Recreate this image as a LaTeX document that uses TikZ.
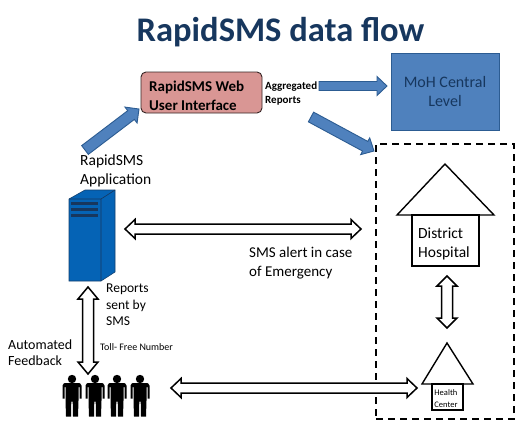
\documentclass[tikz,border=0pt]{standalone}
\usepackage{fontspec}
\setmainfont{Carlito}
\usetikzlibrary{calc}
\definecolor{navy}{HTML}{17375E}
\definecolor{bluefill}{HTML}{4F81BD}
\definecolor{blueline}{HTML}{2C5C92}
\definecolor{serverblue}{HTML}{0563B5}
\definecolor{pinkfill}{HTML}{D99694}
\newcommand\fs[2]{\fontsize{#1}{#2}\selectfont}
\newcommand\singlearrow[6]{%
 \draw[#1] ($(#2)!#4!90:(#3)$) -- ($(#3)!#6!(#2)!#4!-90:(#2)$) -- ($(#3)!#6!(#2)!#5!-90:(#2)$) -- (#3)
  -- ($(#3)!#6!(#2)!#5!90:(#2)$) -- ($(#3)!#6!(#2)!#4!90:(#2)$) -- ($(#2)!#4!-90:(#3)$) -- cycle;}
\newcommand\doublearrow[6]{%
 \draw[#1] (#2) -- ($(#2)!#6!(#3)!#5!90:(#3)$) -- ($(#2)!#6!(#3)!#4!90:(#3)$)
  -- ($(#3)!#6!(#2)!#4!-90:(#2)$) -- ($(#3)!#6!(#2)!#5!-90:(#2)$) -- (#3)
  -- ($(#3)!#6!(#2)!#5!90:(#2)$) -- ($(#3)!#6!(#2)!#4!90:(#2)$)
  -- ($(#2)!#6!(#3)!#4!-90:(#3)$) -- ($(#2)!#6!(#3)!#5!-90:(#3)$) -- cycle;}
\tikzset{
 x=1pt,y=-1pt,
 flowarrow/.style={fill=bluefill,draw=blueline,line width=0.9pt,line join=miter},
 hollowarrow/.style={fill=white,draw=black,line width=1.5pt,line join=miter},
 housepart/.style={fill=white,draw=black,line width=1.4pt,line join=miter},
 lbl/.style={inner sep=0pt,align=left,anchor=west,text=black},
 person/.pic={
  \fill[black] (0,-4.5) circle (4.2);
  \fill[black] (-9.5,2) .. controls (-9.5,-0.5) and (-7,-0.5) .. (-6,-0.5) -- (6,-0.5)
    .. controls (7,-0.5) and (9.5,-0.5) .. (9.5,2) -- (9.5,15) -- (7.5,15) -- (7.5,3.5) -- (6.5,3.5) -- (6.5,17)
    -- (6,33) -- (1,33) -- (0.7,18) -- (-0.7,18) -- (-1,33) -- (-6,33) -- (-6.5,17) -- (-6.5,3.5) -- (-7.5,3.5) -- (-7.5,15) -- (-9.5,15) -- cycle;
 }
}
\begin{document}
\begin{tikzpicture}
\useasboundingbox[fill=white] (0,0) rectangle (515,421);
% title
\node[inner sep=0pt,text=navy,font=\bfseries\fs{34.5}{40}] (title) at (280.5,32) {RapidSMS data flow};
% web UI
\node[draw=black!75!pinkfill,fill=pinkfill,rounded corners=5pt,line width=0.9pt,minimum width=121pt,minimum height=41pt,inner sep=0pt] (web) at (201.5,92.5) {};
\node[lbl,font=\bfseries\fs{15}{19}] (webtext) at (149,95.5) {RapidSMS Web\\User Interface};
% MoH
\node[draw=blueline,fill=bluefill,line width=1pt,minimum width=108pt,minimum height=77pt,inner sep=0pt,align=center,text=navy,font=\fs{16}{19}] (moh) at (445,91.5) {MoH Central\\Level};
\node[lbl,font=\bfseries\fs{11}{14}] (agg) at (265,94) {Aggregated\\Reports};
% dashed group
\node[draw=black,dashed,dash pattern=on 7pt off 5pt,line width=1.4pt,minimum width=138pt,minimum height=275pt,inner sep=0pt] (group) at (445,281.5) {};
% server
\coordinate (srv) at (69,199);
\fill[serverblue,draw=navy!80!serverblue,line width=0.6pt] (69,199) -- (85,190) -- (115,190) -- (115,272) -- (101,281) -- (69,281) -- cycle;
\draw[navy,line width=0.6pt] (69,199) -- (101,199) -- (115,190) (101,199) -- (101,281);
\foreach \yy in {203.5,209.5,215.5} \fill[navy] (71,\yy-1.3) rectangle (98,\yy+1.3);
\node[inner sep=0pt,minimum width=46pt,minimum height=91pt] (server) at (92,235.5) {};
% labels
\node[lbl,font=\fs{15.5}{18.5}] (app) at (80,171) {RapidSMS\\Application};
\node[lbl,font=\fs{15}{19}] (alert) at (249,263) {SMS alert in case\\of Emergency};
\node[lbl,font=\fs{13.5}{16.5}] (sent) at (106,305) {Reports\\sent by\\SMS};
\node[lbl,font=\fs{10}{11}] (toll) at (100,347) {Toll- Free Number};
\node[lbl,font=\fs{14}{16.5}] (auto) at (8,352.5) {Automated\\Feedback};
% people
\foreach \i/\xx in {a/72,b/95,c/117,d/140} \pic (p\i) at (\xx,383.5) {person};
% houses
\draw[housepart] (397,215) -- (445,164) -- (494,215) -- cycle;
\node[housepart,minimum width=67pt,minimum height=51pt,inner sep=0pt] (dh) at (445.5,240.5) {};
\node[lbl,font=\fs{15.5}{19}] (dhtext) at (418,244) {District\\Hospital};
\draw[housepart] (422,384) -- (447,343) -- (473,384) -- cycle;
\node[housepart,minimum width=31pt,minimum height=26pt,inner sep=0pt] (hc) at (447.5,397) {};
\node[inner sep=0pt,align=left,font=\fs{8.5}{11.5}] (hctext) at (446,398.5) {Health\\Center};
% connector ends
\coordinate (a1s) at (85,150); \coordinate (a1e) at (139,109);
\coordinate (a2s) at (319,86); \coordinate (a2e) at (387,86);
\coordinate (a3s) at (311,117); \coordinate (a3e) at (374,151);
\coordinate (b1s) at (125,229); \coordinate (b1e) at (361,229);
\coordinate (b2s) at (88,287); \coordinate (b2e) at (88,374);
\coordinate (b3s) at (171,388); \coordinate (b3e) at (417,388);
\coordinate (b4s) at (447,276); \coordinate (b4e) at (447,328);
\singlearrow{flowarrow}{a1s}{a1e}{5.5pt}{10pt}{10pt}
\singlearrow{flowarrow}{a2s}{a2e}{4.5pt}{9.5pt}{10pt}
\singlearrow{flowarrow}{a3s}{a3e}{5.5pt}{9.5pt}{10pt}
\doublearrow{hollowarrow}{b1s}{b1e}{5pt}{9.5pt}{10pt}
\doublearrow{hollowarrow}{b2s}{b2e}{5.5pt}{10pt}{12pt}
\doublearrow{hollowarrow}{b3s}{b3e}{5pt}{9.5pt}{10pt}
\doublearrow{hollowarrow}{b4s}{b4e}{5.5pt}{10pt}{10pt}
\end{tikzpicture}
\end{document}
